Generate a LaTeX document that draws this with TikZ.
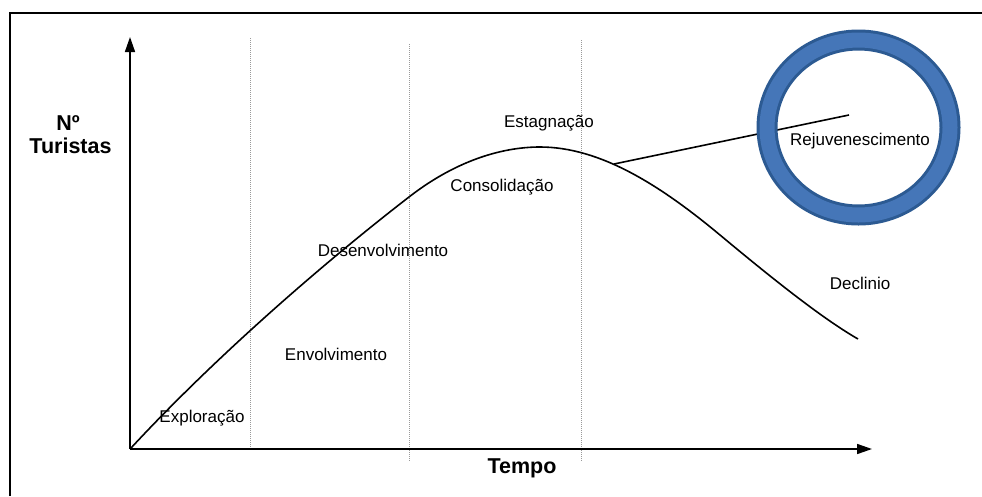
\documentclass[tikz,border=0pt]{standalone}
\usepackage{fontspec}
\setmainfont{Liberation Sans}
\usetikzlibrary{arrows.meta}
\definecolor{ringdark}{HTML}{2C5A92}
\definecolor{ringlight}{HTML}{4576B8}
\tikzset{
  axisline/.style={line width=1.6pt, -{Triangle[length=15pt,width=10pt]}},
  phaseline/.style={densely dotted, line width=1pt, gray!80},
  lbl/.style={font=\fontsize{17}{19}\selectfont, inner sep=0pt},
  axlbl/.style={font=\fontsize{21.5}{24}\selectfont\bfseries, inner sep=0pt, align=center},
  curveline/.style={line width=1.6pt, line join=round},
}
\begin{document}
\begin{tikzpicture}[x=1pt,y=-1pt]
\useasboundingbox (0,0) rectangle (982,496);
\fill[white] (0,0) rectangle (982,496);
% frame (top and left)
\draw[line width=2.4pt] (10,496) -- (10,13) -- (982,13);
% phase separators
\coordinate (v1t) at (250,38); \coordinate (v1b) at (250,447);
\coordinate (v2t) at (409,44); \coordinate (v2b) at (409,462);
\coordinate (v3t) at (581,40); \coordinate (v3b) at (581,462);
\draw[phaseline] (v1t) -- (v1b);
\draw[phaseline] (v2t) -- (v2b);
\draw[phaseline] (v3t) -- (v3b);
% axes
\coordinate (O) at (130,449);
\coordinate (ytip) at (130,37);
\coordinate (xtip) at (872,449);
\draw[axisline] (O) -- (ytip);
\draw[axisline] (O) -- (xtip);
% curve
\coordinate (c0) at (131,448);
\coordinate (c1) at (409,197);
\coordinate (peak) at (540,147);
\coordinate (c3) at (720,235);
\coordinate (cend) at (858,339);
\coordinate (rj) at (614,164);
\draw[curveline] (c0) .. controls (220,352) and (330,258) .. (c1)
  .. controls (454,162) and (500,147) .. (peak)
  .. controls (600,147) and (660,185) .. (c3)
  .. controls (780,285) and (825,320) .. (cend);
% rejuvenation line
\coordinate (rjend) at (849,115);
\draw[line width=1.6pt] (rj) -- (rjend);
% highlight ring
\draw[ringdark, line width=21pt] (858.5,127.5) ellipse [x radius=91.5, y radius=87.5];
\draw[ringlight, line width=15pt] (858.5,127.5) ellipse [x radius=91.5, y radius=87.5];
% labels
\node[axlbl] (ylab1) at (68,123) {Nº};
\node[axlbl] (ylab2) at (70.5,146) {Turistas};
\node[axlbl] (xlab) at (522,468) {Tempo};
\node[lbl] (l1) at (202,418) {Exploração};
\node[lbl] (l2) at (336,354) {Envolvimento};
\node[lbl] (l3) at (383,250) {Desenvolvimento};
\node[lbl] (l4) at (502,187) {Consolidação};
\node[lbl] (l5) at (549,123) {Estagnação};
\node[lbl] (l6) at (860,141) {Rejuvenescimento};
\node[lbl] (l7) at (860,283) {Declinio};
\end{tikzpicture}
\end{document}
